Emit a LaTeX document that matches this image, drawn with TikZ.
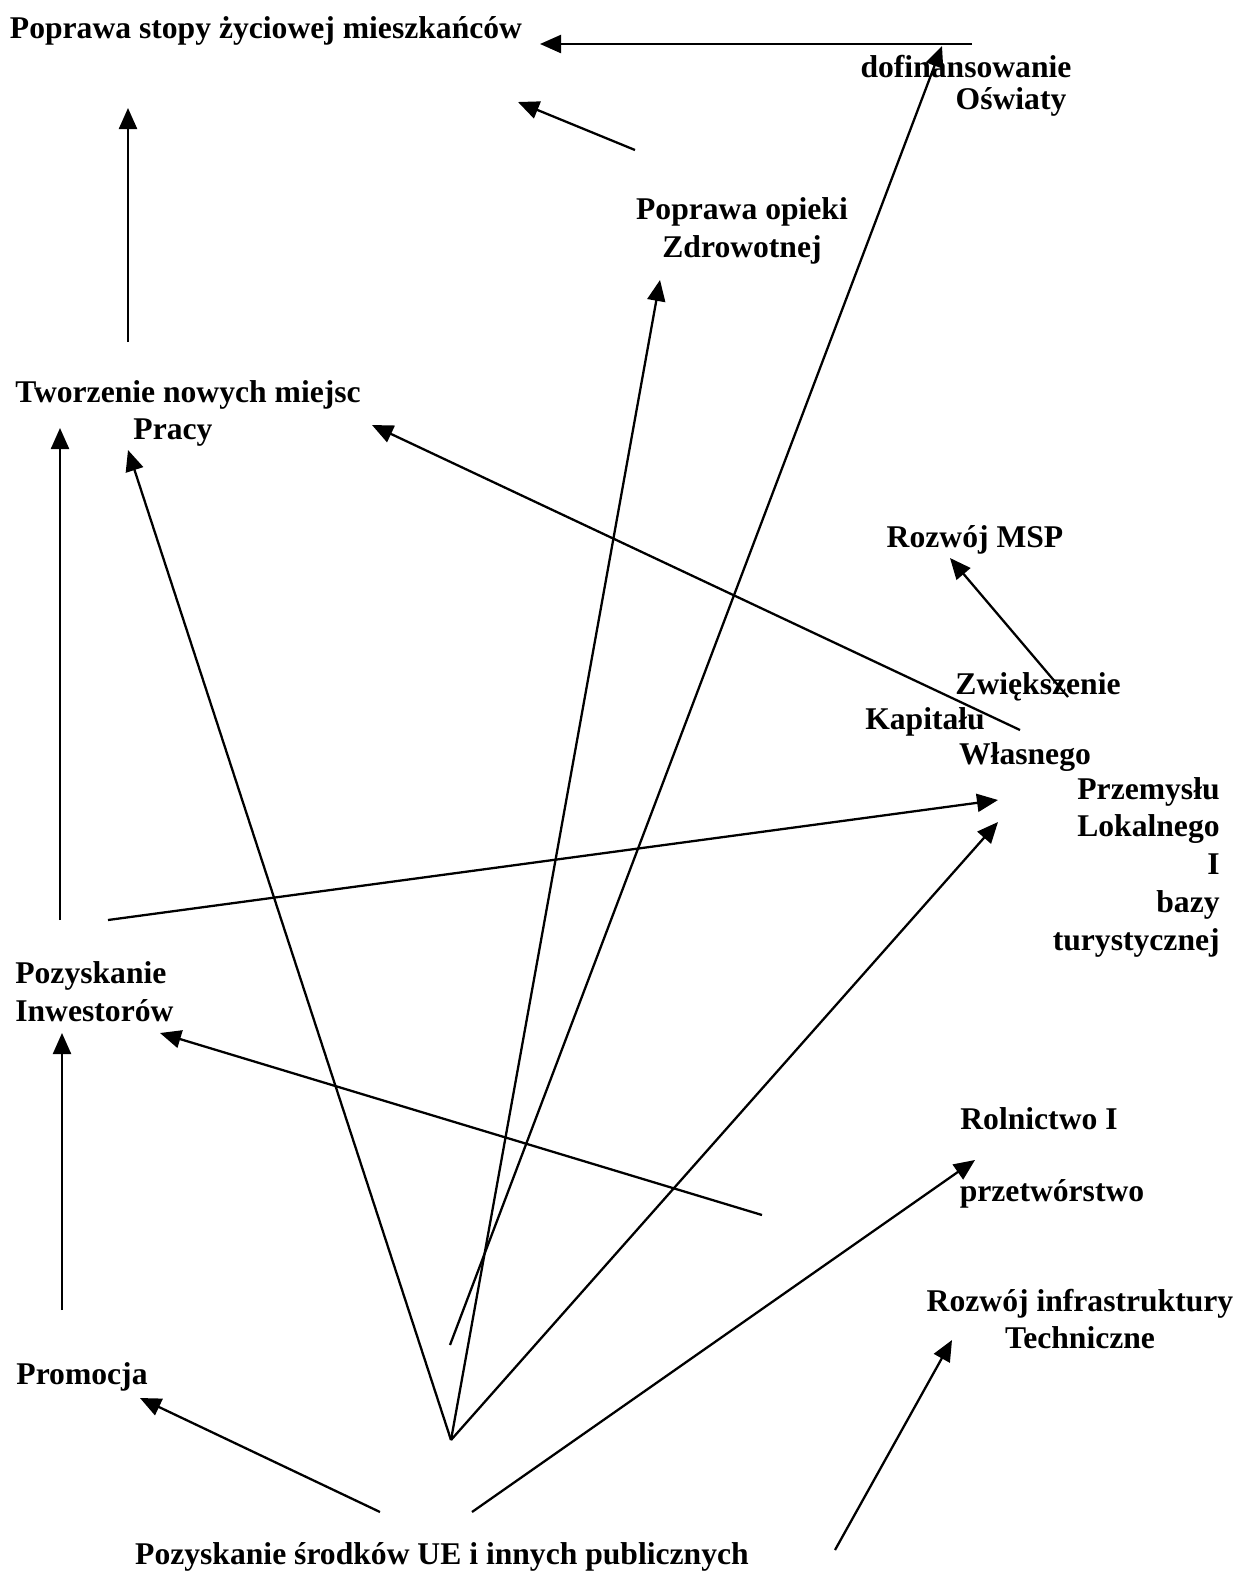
\documentclass[tikz,border=0pt]{standalone}
\usepackage{fontspec}
\setmainfont{Liberation Serif}
\usepackage{tikz}
\usetikzlibrary{arrows.meta}

\begin{document}
\begin{tikzpicture}[x=0.02cm, y=-0.02cm,
 lbl/.style={inner sep=0pt, font=\fontsize{18pt}{21.5pt}\selectfont\bfseries},
 arr/.style={line width=1.3pt, -{Triangle[length=4.2mm,width=3.6mm]}}]
\useasboundingbox (0,0) rectangle (1233,1573);
% etykiety
\node[lbl] (stopa) at (266,31) {Poprawa stopy życiowej mieszkańców};
\node[lbl] (dofA) at (966,67) {dofinansowanie};
\node[lbl] (dofB) at (1011,102) {Oświaty};
\node[lbl, align=center] (opieka) at (742,231) {Poprawa opieki\\Zdrowotnej};
\node[lbl] (pracaA) at (188,395) {Tworzenie nowych miejsc};
\node[lbl] (pracaB) at (173,433) {Pracy};
\node[lbl] (msp) at (975,540) {Rozwój MSP};
\node[lbl] (kapA) at (1038,687) {Zwiększenie};
\node[lbl] (kapB) at (925,722) {Kapitału};
\node[lbl] (kapC) at (1025,757) {Własnego};
\node[lbl, align=right, anchor=east] (przem) at (1220,867) {Przemysłu\\Lokalnego\\I\\bazy\\turystycznej};
\node[lbl, align=left, anchor=west] (inwest) at (15,992) {Pozyskanie\\Inwestorów};
\node[lbl] (rolA) at (1039,1119) {Rolnictwo I};
\node[lbl] (rolB) at (1052,1194) {przetwórstwo};
\node[lbl, align=center] (infra) at (1080,1319) {Rozwój infrastruktury\\Techniczne};
\node[lbl] (promo) at (82,1377) {Promocja};
\node[lbl] (srodki) at (442,1557) {Pozyskanie środków UE i innych publicznych};
% konce strzalek
\coordinate (zrodlo) at (451,1440);
\coordinate (dofS) at (972,44);   \coordinate (dofT) at (540,44);
\coordinate (oswS) at (450,1345); \coordinate (oswT) at (942,46);
\coordinate (opS) at (635,150);   \coordinate (opT) at (518,102);
\coordinate (prS) at (128,342);   \coordinate (prT) at (128,108);
\coordinate (zdrT) at (660,280);
\coordinate (miejT) at (128,450);
\coordinate (kapS) at (1020,730); \coordinate (kapT) at (372,425);
\coordinate (mspS) at (1068,697); \coordinate (mspT) at (950,558);
\coordinate (invS) at (108,920);  \coordinate (przT) at (998,800);
\coordinate (przT2) at (998,822);
\coordinate (inwS) at (60,920);   \coordinate (inwT) at (60,428);
\coordinate (rolS) at (762,1215); \coordinate (rolT) at (160,1033);
\coordinate (proS) at (62,1310);  \coordinate (proT) at (62,1033);
\coordinate (srA) at (380,1512);  \coordinate (srPT) at (140,1398);
\coordinate (srB) at (472,1512);  \coordinate (srRT) at (975,1160);
\coordinate (infS) at (835,1550); \coordinate (infT) at (952,1340);
% strzalki
\draw[arr] (dofS) -- (dofT);
\draw[arr] (oswS) -- (oswT);
\draw[arr] (opS) -- (opT);
\draw[arr] (prS) -- (prT);
\draw[arr] (zrodlo) -- (zdrT);
\draw[arr] (zrodlo) -- (miejT);
\draw[arr] (zrodlo) -- (przT2);
\draw[arr] (kapS) -- (kapT);
\draw[arr] (mspS) -- (mspT);
\draw[arr] (invS) -- (przT);
\draw[arr] (inwS) -- (inwT);
\draw[arr] (rolS) -- (rolT);
\draw[arr] (proS) -- (proT);
\draw[arr] (srA) -- (srPT);
\draw[arr] (srB) -- (srRT);
\draw[arr] (infS) -- (infT);
\end{tikzpicture}
\end{document}
